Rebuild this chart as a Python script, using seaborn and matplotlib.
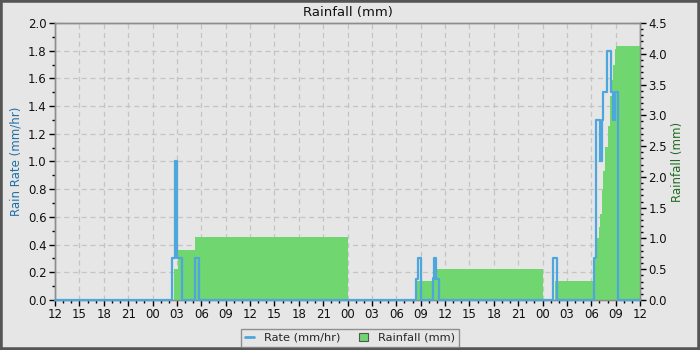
import matplotlib
matplotlib.use("Agg")
import matplotlib.pyplot as plt
import seaborn as sns
import pandas as pd
from matplotlib.patches import Patch, Rectangle
from matplotlib.lines import Line2D
from matplotlib.ticker import MultipleLocator

# ---- data (hours since 12:00 on day 1) ----
rate_hours = [0, 14.45, 14.8, 15.05, 15.6, 17.23, 17.76, 44.43, 44.62, 45.0,
              46.48, 46.7, 46.95, 47.2, 61.33, 61.74, 66.38, 66.6, 67.05,
              67.3, 67.5, 67.98, 68.39, 68.63, 68.9, 69.3, 72]
rate_values = [0, 0.3, 1.0, 0.3, 0, 0.3, 0, 0.15, 0.3, 0,
               0.15, 0.3, 0.15, 0, 0.3, 0, 0.3, 1.3, 1.0,
               1.3, 1.5, 1.8, 1.5, 1.3, 1.5, 0, 0]

rain_hours = [0, 14.65, 15.18, 17.23, 36.0, 44.5, 46.4, 46.8, 60.0, 61.5,
              66.3, 66.7, 66.9, 67.1, 67.3, 67.5, 67.7, 68.0, 68.3, 68.5,
              68.7, 68.9, 69.05, 72]
rain_values = [0, 0.51, 0.81, 1.03, 0, 0.31, 0.38, 0.51, 0, 0.31,
               0.67, 1.0, 1.19, 1.4, 1.78, 2.1, 2.49, 2.82, 3.31, 3.58,
               3.82, 4.07, 4.12, 4.12]

tick_labels = ["12", "15", "18", "21", "00", "03", "06", "09", "12", "15",
               "18", "21", "00", "03", "06", "09", "12", "15", "18", "21",
               "00", "03", "06", "09", "12"]

title = "Rainfall (mm)"
left_label = "Rain Rate (mm/hr)"
right_label = "Rainfall (mm)"
rate_name = "Rate (mm/hr)"
rain_name = "Rainfall (mm)"

BG = "#e6e6e6"
BLUE = "#4da6dc"
GREEN = "#70d670"
SPINE = "#8c8c8c"

sns.set_style("white")
plt.rcParams["font.family"] = ["DejaVu Sans"]

fig = plt.figure(figsize=(7, 3.5), dpi=100, facecolor=BG)
pos = [55 / 700, 1 - 300 / 350, 585 / 700, 277 / 350]
ax1 = fig.add_axes(pos)
ax1.set_facecolor(BG)
ax2 = ax1.twinx()

# green cumulative rainfall
ax2.fill_between(rain_hours, rain_values, step="post", color=GREEN, linewidth=0)
ax2.set_ylim(0, 4.5)

# overlay axes for rate line (same scale as ax1)
ax3 = fig.add_axes(pos, sharex=ax1, sharey=ax1)
ax3.patch.set_visible(False)
df_rate = pd.DataFrame({"hour": rate_hours, "rate": rate_values})
sns.lineplot(data=df_rate, x="hour", y="rate", ax=ax3, color=BLUE,
             linewidth=1.6, drawstyle="steps-post", clip_on=False)
ax3.axis("off")

ax1.set_xlim(0, 72)
ax1.set_ylim(0, 2.0)
ax1.xaxis.set_minor_locator(MultipleLocator(1))
ax1.set_xticks(list(range(0, 73, 3)))
ax1.set_xticklabels(tick_labels)
ax1.yaxis.set_major_locator(MultipleLocator(0.2))
ax1.yaxis.set_minor_locator(MultipleLocator(0.1))
ax1.yaxis.set_major_formatter(matplotlib.ticker.FormatStrFormatter("%.1f"))
ax2.yaxis.set_major_locator(MultipleLocator(0.5))
ax2.yaxis.set_minor_locator(MultipleLocator(0.1))
ax2.yaxis.set_major_formatter(matplotlib.ticker.FormatStrFormatter("%.1f"))

ax1.grid(True, which="major", color="#c4c4c4", linestyle=(0, (4, 3)), linewidth=0.9)
ax1.set_axisbelow(True)

for ax in (ax1, ax2):
    ax.tick_params(which="major", direction="out", length=4, width=1,
                   color="black", labelsize=8.5, labelcolor="#111111", pad=2)
    ax.tick_params(which="minor", direction="out", length=2.5, width=1, color="black")
    for s in ax.spines.values():
        s.set_color(SPINE)
        s.set_linewidth(1)
ax1.tick_params(axis="x", which="both", bottom=True)
ax1.tick_params(axis="y", which="both", left=True)
ax2.tick_params(axis="y", which="both", right=True)

ax1.set_xlabel("")
ax1.set_ylabel(left_label, color="#1f6fa8", fontsize=8.5, labelpad=4)
ax2.set_ylabel(right_label, color="#226b22", fontsize=8.5, labelpad=3)
ax1.set_title(title, fontsize=9.5, color="#111111", pad=5)

handles = [Line2D([0], [0], color=BLUE, linewidth=2),
           Patch(facecolor=GREEN, edgecolor="#555555", linewidth=0.8)]
leg = fig.legend(handles, [rate_name, rain_name], loc="upper center",
                 bbox_to_anchor=(0.5, 1 - 323 / 350), ncol=2, frameon=True,
                 fancybox=False, fontsize=8.2, handlelength=0.8, handleheight=0.8,
                 columnspacing=1.6, borderpad=0.35, handletextpad=0.9)
leg.get_frame().set_facecolor(BG)
leg.get_frame().set_edgecolor("#7a7a7a")
leg.get_frame().set_linewidth(1)

fig.patches.append(Rectangle((0, 0), 1, 1, transform=fig.transFigure,
                             fill=False, edgecolor="#555555", linewidth=4))

fig.savefig("out.png", dpi=100, facecolor=BG)
